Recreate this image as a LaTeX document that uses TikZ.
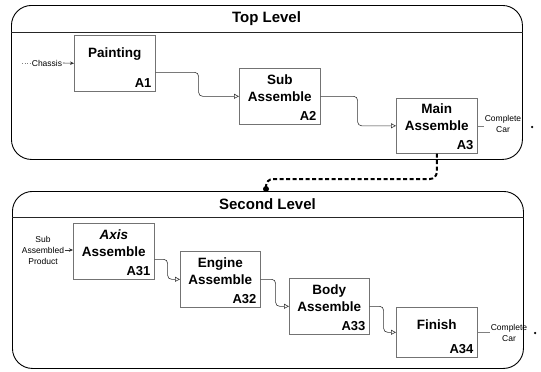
\documentclass[tikz,border=0pt]{standalone}
\usepackage{fontspec}
\setmainfont{Liberation Sans}
\usetikzlibrary{arrows.meta,calc}
\begin{document}
\begin{tikzpicture}[x=1pt,y=-1pt,
 panel/.style={draw=black,line width=0.9pt,rounded corners=20pt,minimum width=511pt,anchor=north west,inner sep=0pt},
 sepline/.style={draw=black!85,line width=0.7pt},
 ptitle/.style={font=\fontsize{15}{18}\selectfont\bfseries,inner sep=0pt},
 abox/.style={draw=black!55,line width=0.6pt,minimum width=81pt,minimum height=56pt,anchor=north west,inner sep=0pt},
 atext/.style={font=\fontsize{13.5}{17}\selectfont\bfseries,align=center,inner sep=0pt},
 aid/.style={font=\fontsize{13}{15}\selectfont\bfseries,anchor=base east,inner sep=0pt},
 small/.style={font=\fontsize{8.5}{11}\selectfont,align=center,inner sep=0.5pt},
 flow/.style={draw=black!80,line width=0.6pt,rounded corners=4pt,-{Triangle[open,length=5pt,width=5pt]}},
 inarrow/.style={draw=black!80,line width=0.6pt,-{Stealth[length=4pt,width=3.5pt]}},
 outline/.style={draw=black!50,line width=0.5pt},
 dotend/.style={circle,fill=black,inner sep=0pt,minimum size=2.5pt},
 linkdotstyle/.style={circle,fill=black,inner sep=0pt,minimum size=6pt},
 link/.style={draw=black,line width=2pt,dash pattern=on 4pt off 2.5pt,rounded corners=7pt}
]
\useasboundingbox (0,0) rectangle (541,372);

% ---------- Top level ----------
\node[panel,minimum height=154pt] (toppanel) at (11,5) {};
\draw[sepline] ([yshift=-27pt]toppanel.north west) -- ([yshift=-27pt]toppanel.north east);
\node[ptitle] (toptitle) at (266.5,18.5) {Top Level};

\node[abox] (painting) at (74,35) {};
\node[abox] (sub) at (239,68) {};
\node[abox,minimum height=55pt] (main) at (396,98) {};

\node[atext] (paintingt) at ([yshift=-19pt]painting.north) {Painting};
\node[atext] (subt) at ([yshift=-20pt]sub.north) {Sub\\Assemble};
\node[atext] (maint) at ([yshift=-19pt]main.north) {Main\\Assemble};
\node[aid] (paintingid) at ([xshift=-4pt,yshift=4pt]painting.south east) {A1};
\node[aid] (subid) at ([xshift=-4pt,yshift=4pt]sub.south east) {A2};
\node[aid] (mainid) at ([xshift=-4pt,yshift=4pt]main.south east) {A3};

\coordinate (chstart) at (22,63);
\node[small] (chassis) at (47,63) {Chassis};
\draw[outline,dotted] (chstart) -- (chassis.west);
\draw[inarrow] (chassis.east) -- (painting.west);

\draw[flow] ([yshift=-9pt]painting.east) -- ++(43,0) |- (sub.west);
\draw[flow] (sub.east) -- ++(37,0) |- (main.west);

\node[small] (carout1) at (503,123.5) {Complete\\Car};
\draw[outline] (main.east) -- (main.east -| carout1.west);
\node[dotend] (carend1) at (532,127) {};

% ---------- link ----------
\node[linkdotstyle] (linkdot) at (266,189) {};
\coordinate (jog) at (266,179);
\draw[link] (main.south) |- (jog) -- (linkdot.center);

% ---------- Second level ----------
\node[panel,minimum height=177pt] (secpanel) at (12,191) {};
\draw[sepline] ([yshift=-26pt]secpanel.north west) -- ([yshift=-26pt]secpanel.north east);
\node[ptitle] (sectitle) at (267.5,204) {Second Level};

\node[abox] (axis) at (73,223) {};
\node[abox,minimum width=80pt] (engine) at (180,251) {};
\node[abox,minimum width=80pt] (body) at (289,278) {};
\node[abox,minimum height=50pt] (finish) at (396,307) {};

\node[atext] (axist) at ([yshift=-20pt]axis.north) {{\itshape Axis}\\Assemble};
\node[atext] (enginet) at ([yshift=-20pt]engine.north) {Engine\\Assemble};
\node[atext] (bodyt) at ([yshift=-20pt]body.north) {Body\\Assemble};
\node[atext] (finisht) at ([yshift=-18pt]finish.north) {Finish};
\node[aid] (axisid) at ([xshift=-4pt,yshift=4pt]axis.south east) {A31};
\node[aid] (engineid) at ([xshift=-4pt,yshift=4pt]engine.south east) {A32};
\node[aid] (bodyid) at ([xshift=-4pt,yshift=4pt]body.south east) {A33};
\node[aid] (finishid) at ([xshift=-4pt,yshift=4pt]finish.south east) {A34};

\node[small] (subin) at (43,250) {Sub\\Assembled\\Product};
\draw[inarrow] (subin.east) -- (subin.east -| axis.west);

\draw[flow] ([yshift=-8pt]axis.east) -- ++(13,0) |- (engine.west);
\draw[flow] (engine.east) -- ++(15,0) |- (body.west);
\draw[flow] (body.east) -- ++(14,0) |- (finish.west);

\node[small] (carout2) at (509,332.5) {Complete\\Car};
\draw[outline] (finish.east) -- (finish.east -| carout2.west);
\node[dotend] (carend2) at (535,333) {};
\end{tikzpicture}
\end{document}
